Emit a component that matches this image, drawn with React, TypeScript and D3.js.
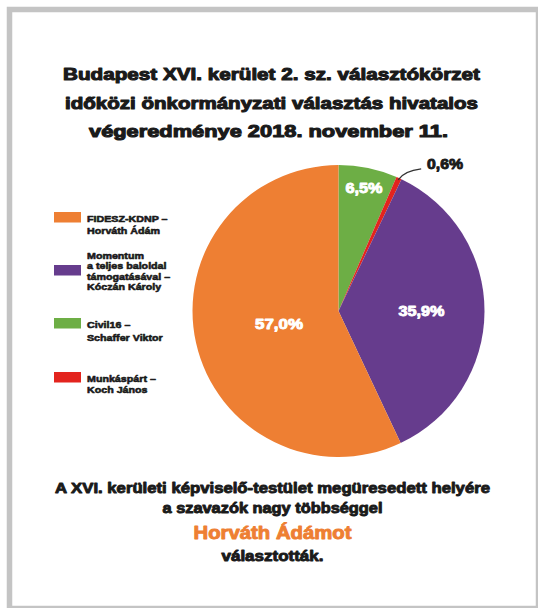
import React from "react";
import * as d3 from "d3";

const categories = ["Civil16 – Schaffer Viktor", "Munkáspárt – Koch János", "Momentum a teljes baloldal támogatásával – Kóczán Károly", "FIDESZ-KDNP – Horváth Ádám"];
const shares = [6.5, 0.6, 35.9, 57.0];
const shareLabels = ["6,5%", "0,6%", "35,9%", "57,0%"];
const colors = ["#6DAE45", "#E3241E", "#663C8D", "#EE7F33"];

const legendOrder = [3, 2, 0, 1];
const legendLines = [
  ["Civil16 –", "Schaffer Viktor"],
  ["Munkáspárt –", "Koch János"],
  ["Momentum", "a teljes baloldal", "támogatásával –", "Kóczán Károly"],
  ["FIDESZ-KDNP –", "Horváth Ádám"],
];

const titleLines = [
  "Budapest XVI. kerület 2. sz. választókörzet",
  "időközi önkormányzati választás hivatalos",
  "végeredménye 2018. november 11.",
];

const footerLines = [
  "A XVI. kerületi képviselő-testület megüresedett helyére",
  "a szavazók nagy többséggel",
  "Horváth Ádámot",
  "választották.",
];

const W = 538;
const H = 608;
const FONT = "'Liberation Sans', Arial, sans-serif";

export default function App() {
  const cx = 338.5;
  const cy = 311;
  const r = 146;
  const pie = d3.pie<number>().sort(null).value((d) => d)(shares);
  const arc = d3.arc<d3.PieArcDatum<number>>().innerRadius(0).outerRadius(r);
  const labelRadius = [126, 0, 83, 61];
  const labelWidth = [37, 36, 46, 48];

  const legendTop = [212, 265, 318, 372];
  const legendLineStart = [222, 259, 328, 382];
  const legendLineGap = [12, 10.5, 13.5, 11.5];

  const titleX = [271.5, 271.5, 268.5];
  const titleW = [417, 413, 359];
  const footerY = [493, 513, 538.5, 561];
  const footerW = [435, 220, 158, 102];
  const footerSize = [14.2, 14.2, 18, 14.2];

  const small = pie[1];
  const smallMid = (small.startAngle + small.endAngle) / 2;
  const sx = cx + Math.sin(smallMid) * (r - 2);
  const sy = cy - Math.cos(smallMid) * (r - 2);

  const heavy = (c: string, w = 0.9) => ({ stroke: c, strokeWidth: w, paintOrder: "stroke" as const, strokeLinejoin: "round" as const });
  const ink = "#1a1a1a";

  return (
    <svg width={W} height={H} style={{ position: "absolute", left: 0, top: 0, background: "#fff" }} fontFamily={FONT}>
      <rect x={0} y={0} width={W} height={H} fill="#fff" />
      <rect x={9.5} y={9.5} width={529} height={599} fill="#fff" stroke="#C4C4C4" strokeWidth={5.5} />

      <g fontWeight={700} fontSize={17.3} textAnchor="middle" fill={ink}>
        {titleLines.map((t, i) => (
          <text key={i} x={titleX[i]} y={80 + i * 28.5} textLength={titleW[i]} lengthAdjust="spacingAndGlyphs" {...heavy(ink, 1.1)}>
            {t}
          </text>
        ))}
      </g>

      <g transform={`translate(${cx},${cy})`}>
        {pie.map((p, i) => (
          <path key={i} d={arc(p) || ""} fill={colors[i]} />
        ))}
        {pie.map((p, i) => {
          if (i === 1) return null;
          const mid = (p.startAngle + p.endAngle) / 2;
          const lr = labelRadius[i];
          return (
            <text
              key={i}
              x={Math.sin(mid) * lr}
              y={-Math.cos(mid) * lr + 5}
              textAnchor="middle"
              fontSize={14.5}
              fontWeight={700}
              fill="#fff"
              textLength={labelWidth[i]}
              lengthAdjust="spacingAndGlyphs"
              {...heavy("#fff", 0.9)}
            >
              {shareLabels[i]}
            </text>
          );
        })}
      </g>

      <path
        d={`M${sx},${sy} Q${sx + 6},${sy - 9} ${sx + 23},${sy - 11}`}
        fill="none"
        stroke="#333"
        strokeWidth={1.3}
      />
      <text x={427} y={169} fontSize={14.5} fontWeight={700} fill={ink} textLength={labelWidth[1]} lengthAdjust="spacingAndGlyphs" {...heavy(ink, 0.9)}>
        {shareLabels[1]}
      </text>

      <g fontWeight={700} fontSize={9.8} fill={ink}>
        {legendOrder.map((ci, k) => (
          <g key={ci}>
            <rect x={54} y={legendTop[k]} width={27} height={10.5} fill={colors[ci]} />
            {legendLines[ci].map((ln, j) => (
              <text key={j} x={87} y={legendLineStart[k] + j * legendLineGap[k]} transform={`translate(87,0) scale(1.09,1) translate(-87,0)`} {...heavy(ink, 0.6)}>
                {ln}
              </text>
            ))}
          </g>
        ))}
      </g>

      <g fontWeight={700} textAnchor="middle">
        {footerLines.map((t, i) => (
          <text
            key={i}
            x={272.5}
            y={footerY[i]}
            fontSize={footerSize[i]}
            fill={i === 2 ? "#EE7F33" : ink}
            textLength={footerW[i]}
            lengthAdjust="spacingAndGlyphs"
            {...heavy(i === 2 ? "#EE7F33" : ink, 0.9)}
          >
            {t}
          </text>
        ))}
      </g>
    </svg>
  );
}
